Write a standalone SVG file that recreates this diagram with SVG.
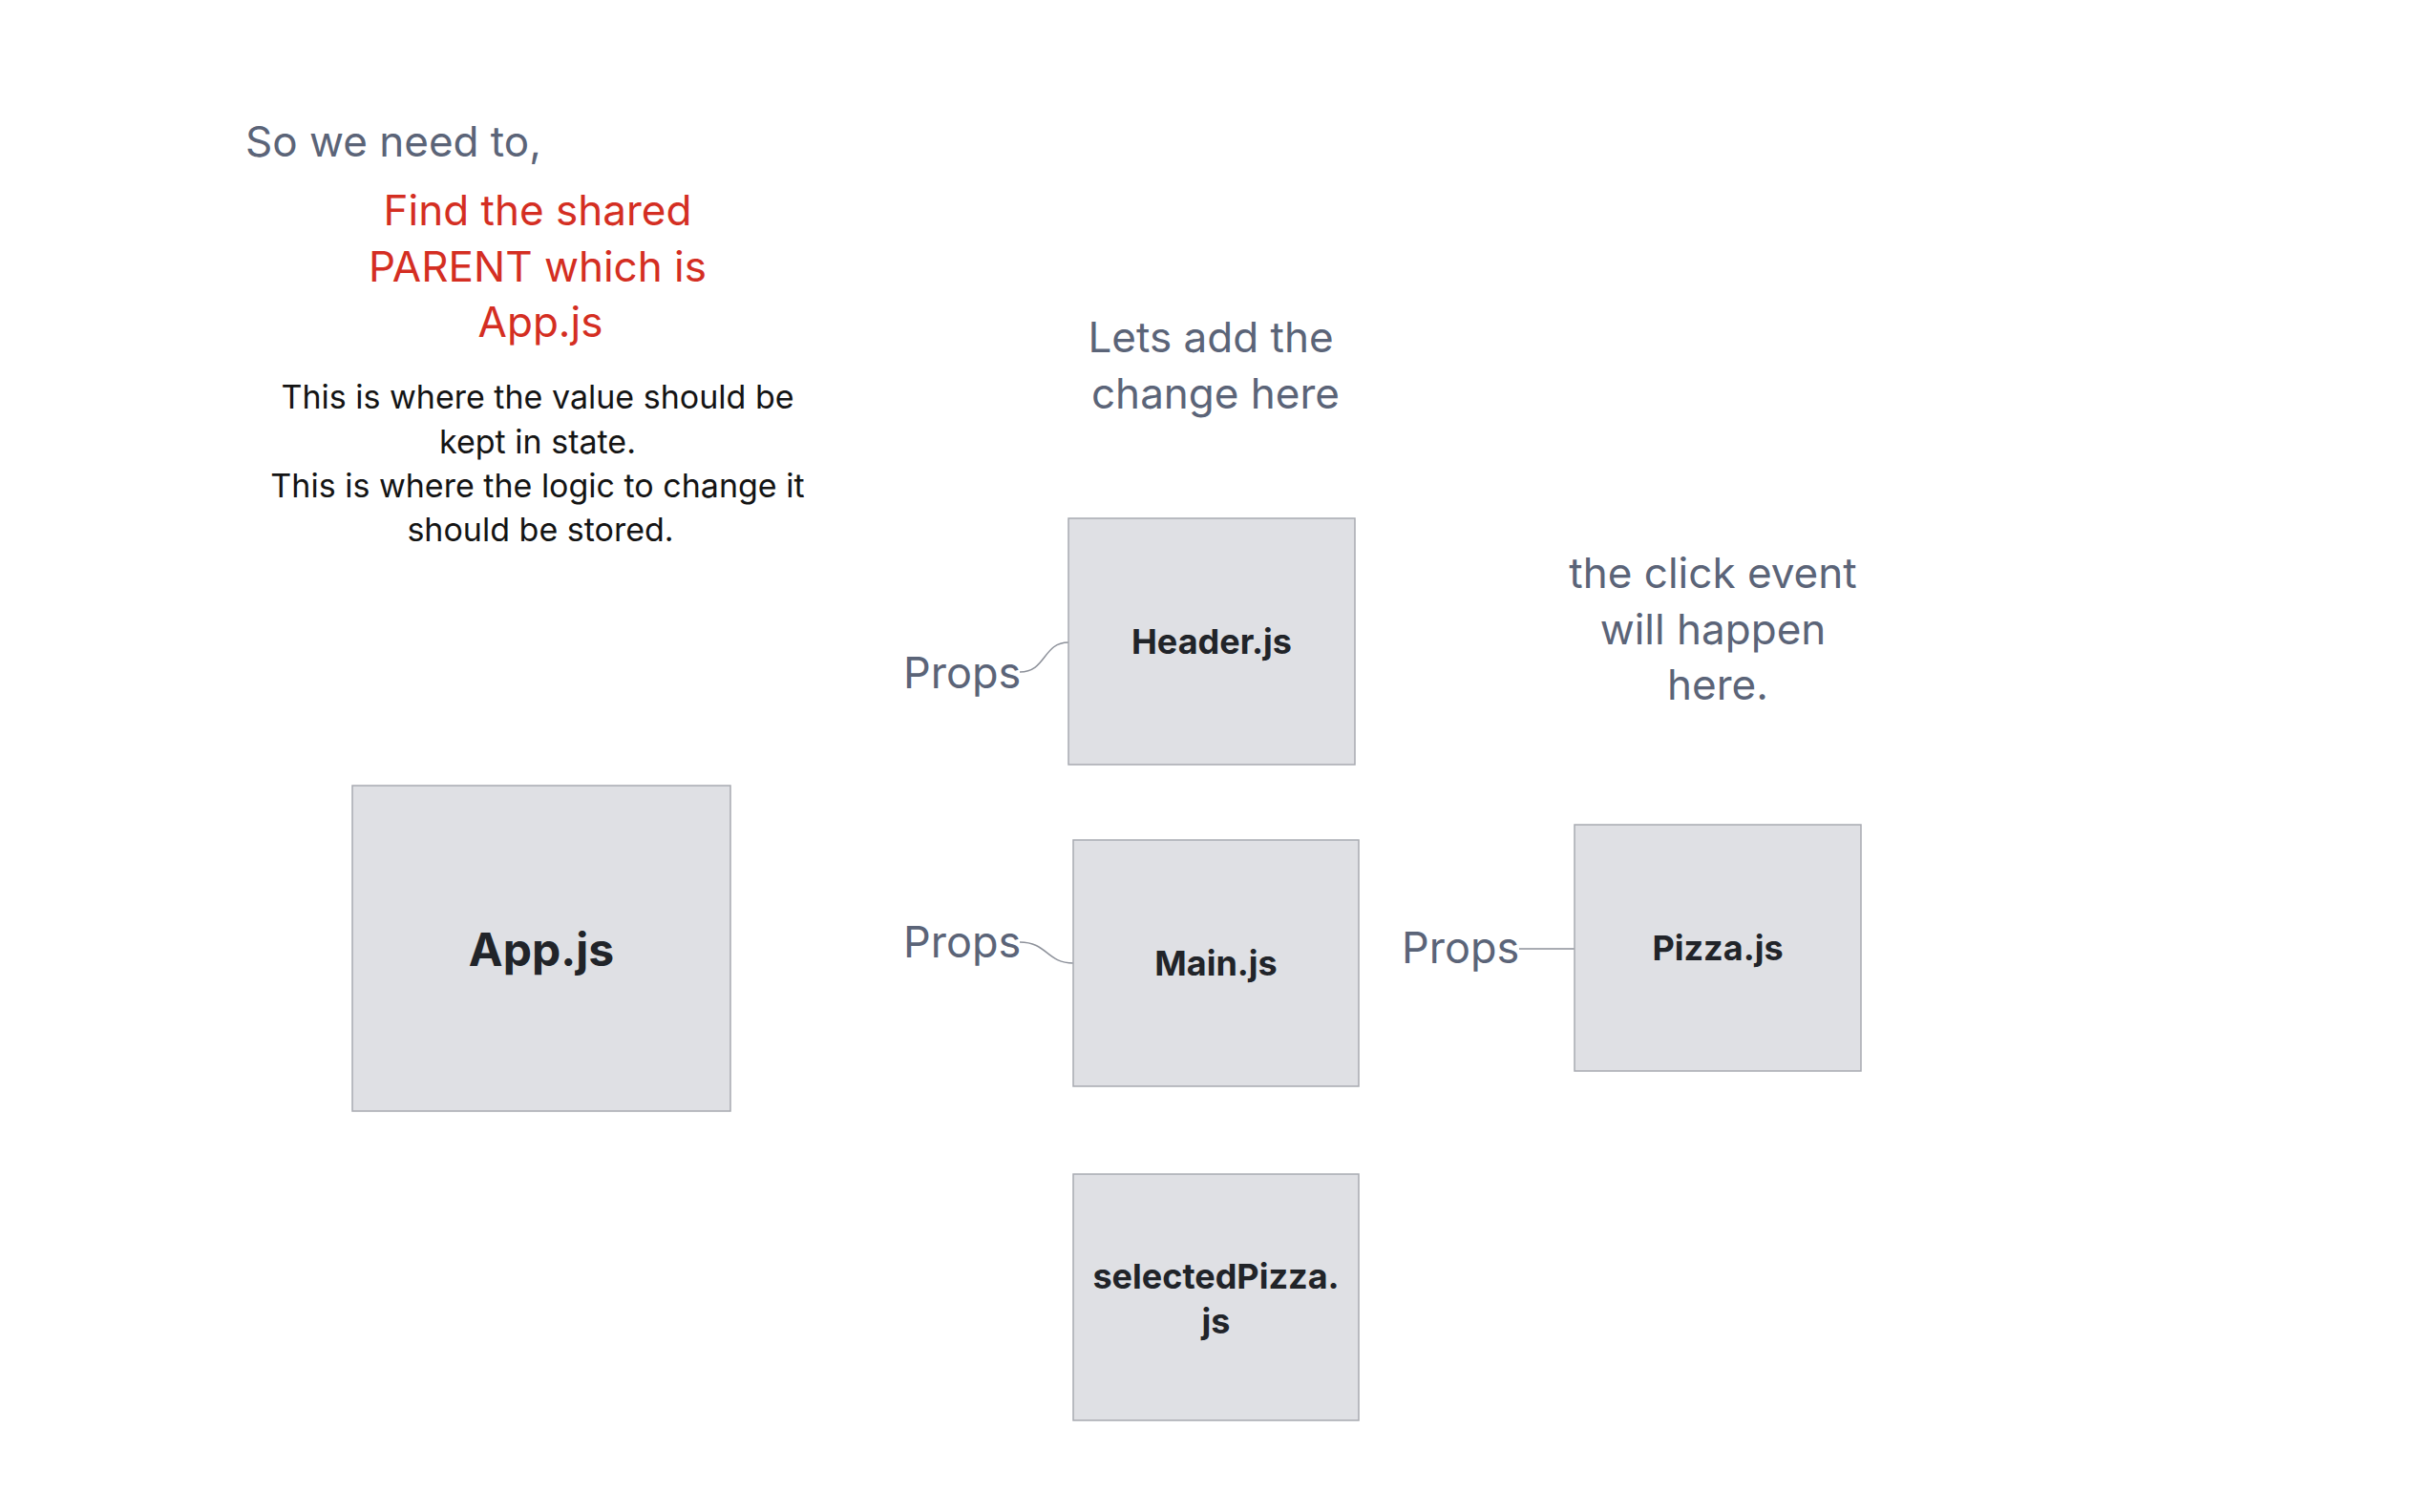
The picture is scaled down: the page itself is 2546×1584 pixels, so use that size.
<svg xmlns="http://www.w3.org/2000/svg" width="2546" height="1584" viewBox="0 0 2546 1584">
<style>
.node rect{fill:#dfe0e4;stroke:#a8aab1;stroke-width:1.5}
.node text{font-family:Inter,"Noto Sans",sans-serif;font-weight:700;fill:#212429;text-anchor:middle}
.note{font-family:Inter,"Noto Sans",sans-serif;font-size:44px;fill:#5b6478;text-anchor:middle}
.red{font-family:Inter,"Noto Sans",sans-serif;font-size:44px;fill:#d42e22;text-anchor:middle}
.body{font-family:Inter,"Noto Sans",sans-serif;font-size:34px;fill:#141414;text-anchor:middle}
.label{font-family:Inter,"Noto Sans",sans-serif;font-size:45px;fill:#5b6478}
.conn{fill:none;stroke:#8d919a;stroke-width:1.5}
</style>
<rect width="2546" height="1584" fill="#ffffff"/>
<g id="intro">
<text class="note" x="257" y="164" style="text-anchor:start">So we need to,</text>
<text class="red" x="563" y="236">Find the shared</text>
<text class="red" x="563" y="294.5">PARENT which is</text>
<text class="red" x="566" y="353">App.js</text>
<text class="body" x="563" y="428">This is where the value should be</text>
<text class="body" x="563" y="475">kept in state.</text>
<text class="body" x="563" y="521">This is where the logic to change it</text>
<text class="body" x="566" y="567">should be stored.</text>
</g>
<g id="note-change">
<text class="note" x="1268" y="369">Lets add the</text>
<text class="note" x="1273" y="427.5">change here</text>
</g>
<g id="note-click">
<text class="note" x="1794" y="616">the click event</text>
<text class="note" x="1794" y="674.5">will happen</text>
<text class="note" x="1799" y="733">here.</text>
</g>
<g id="connectors">
<path class="conn" d="M1068,704 C1096,704 1092,673 1119,673"/>
<path class="conn" d="M1068,987 C1097,987 1096,1009 1124,1009"/>
<path class="conn" d="M1591,994 L1649,994"/>
<text class="label" x="946" y="721">Props</text>
<text class="label" x="946" y="1003">Props</text>
<text class="label" x="1468" y="1009">Props</text>
</g>
<g id="app" class="node">
<rect x="369" y="823" width="396" height="341"/>
<text x="567" y="1012" font-size="48">App.js</text>
</g>
<g id="header" class="node">
<rect x="1119" y="543" width="300" height="258"/>
<text x="1269" y="685" font-size="36">Header.js</text>
</g>
<g id="main" class="node">
<rect x="1124" y="880" width="299" height="258"/>
<text x="1273.5" y="1022" font-size="36">Main.js</text>
</g>
<g id="pizza" class="node">
<rect x="1649" y="864" width="300" height="258"/>
<text x="1799" y="1006" font-size="36">Pizza.js</text>
</g>
<g id="selected-pizza" class="node">
<rect x="1124" y="1230" width="299" height="258"/>
<text x="1273.5" y="1350" font-size="36">selectedPizza.</text>
<text x="1273.5" y="1397" font-size="36">js</text>
</g>
</svg>
